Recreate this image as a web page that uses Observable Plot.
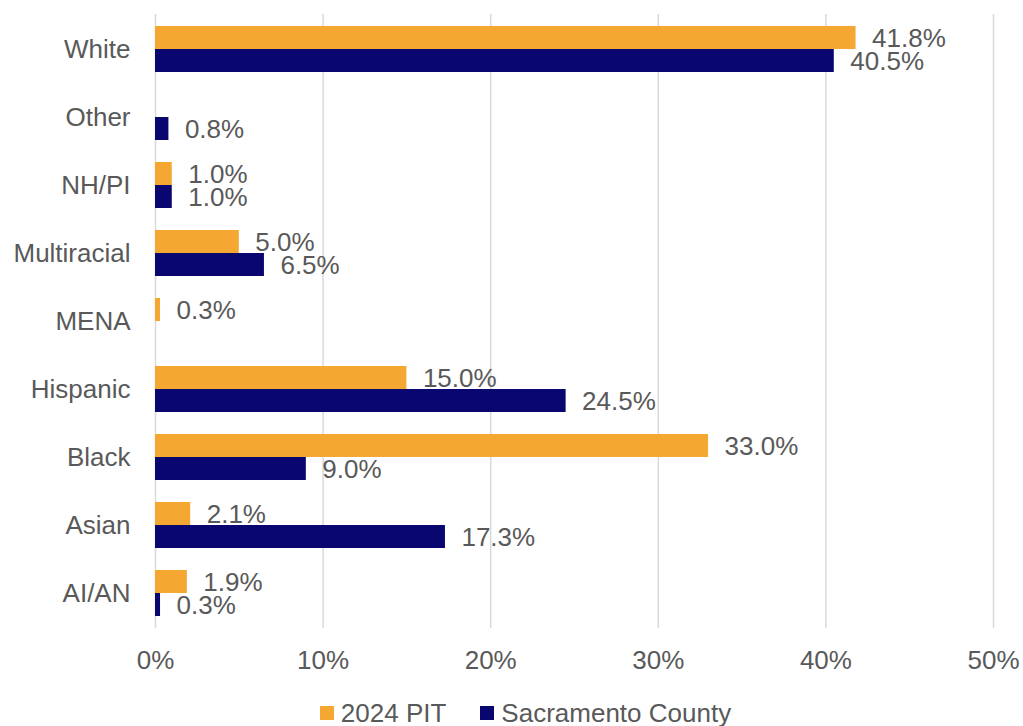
<!DOCTYPE html>
<html>
<head>
<meta charset="utf-8">
<script src="https://cdn.jsdelivr.net/npm/d3@7"></script>
<script src="https://cdn.jsdelivr.net/npm/@observablehq/plot@0.6"></script>
<style>
  html, body { margin: 0; padding: 0; background: #fff; }
  body { font-family: "Liberation Sans", Arial, sans-serif; width: 1023px; }
  #chart svg { display: block; }
  #legend { display: flex; justify-content: center; align-items: center; gap: 34px; font-size: 26px; line-height: 26px; color: #595959; margin-top: 10px; padding-left: 28px; }
  .item { display: flex; align-items: center; gap: 7px; }
  .sw { width: 14px; height: 14px; display: inline-block; }
</style>
</head>
<body>
<div id="chart"></div>
<div id="legend"></div>
<script>
const categories = ["White", "Other", "NH/PI", "Multiracial", "MENA", "Hispanic", "Black", "Asian", "AI/AN"];
const seriesNames = ["2024 PIT", "Sacramento County"];
const pit2024 = [41.8, null, 1.0, 5.0, 0.3, 15.0, 33.0, 2.1, 1.9];
const sacramento = [40.5, 0.8, 1.0, 6.5, null, 24.5, 9.0, 17.3, 0.3];
const xTicks = [0, 0.1, 0.2, 0.3, 0.4, 0.5];
const colors = ["#F4A832", "#0A0670"];

const pitRows = categories.map((c, i) => ({category: c, value: pit2024[i] == null ? null : pit2024[i] / 100})).filter(d => d.value != null);
const sacRows = categories.map((c, i) => ({category: c, value: sacramento[i] == null ? null : sacramento[i] / 100})).filter(d => d.value != null);
const fmt = v => (v * 100).toFixed(1) + "%";

const textColor = "#595959";
const fs = 26;
const chart = Plot.plot({
  width: 1023,
  height: 690,
  marginLeft: 155,
  marginRight: 30,
  marginTop: 14,
  marginBottom: 62,
  style: {fontFamily: '"Liberation Sans", Arial, sans-serif', fontSize: fs + "px", color: textColor, background: "#fff", overflow: "visible"},
  x: {domain: [0, 0.5], ticks: xTicks, tickFormat: d3.format(".0%"), label: null},
  y: {domain: categories, paddingInner: 0.33, paddingOuter: 0.165, label: null},
  marks: [
    Plot.gridX(xTicks, {stroke: "#d9d9d9", strokeOpacity: 1, strokeWidth: 1.5}),
    Plot.barX(pitRows, {x: "value", y: "category", fill: colors[0], insetBottom: 23}),
    Plot.barX(sacRows, {x: "value", y: "category", fill: colors[1], insetTop: 23}),
    Plot.text(pitRows, {x: "value", y: "category", text: d => fmt(d.value), dx: 16, dy: -11, textAnchor: "start", fill: textColor, fontSize: fs}),
    Plot.text(sacRows, {x: "value", y: "category", text: d => fmt(d.value), dx: 16, dy: 12, textAnchor: "start", fill: textColor, fontSize: fs}),
    Plot.axisX({ticks: xTicks, tickFormat: d3.format(".0%"), tickSize: 0, tickPadding: 22, fontSize: fs, fill: textColor, label: null}),
    Plot.axisY({tickSize: 0, tickPadding: 25, fontSize: fs, fill: textColor, label: null})
  ]
});
document.getElementById("chart").appendChild(chart);

const legend = document.getElementById("legend");
seriesNames.forEach((name, i) => {
  const item = document.createElement("div");
  item.className = "item";
  const sw = document.createElement("span");
  sw.className = "sw";
  sw.style.background = colors[i];
  const label = document.createElement("span");
  label.textContent = name;
  item.appendChild(sw);
  item.appendChild(label);
  legend.appendChild(item);
});
</script>
</body>
</html>
